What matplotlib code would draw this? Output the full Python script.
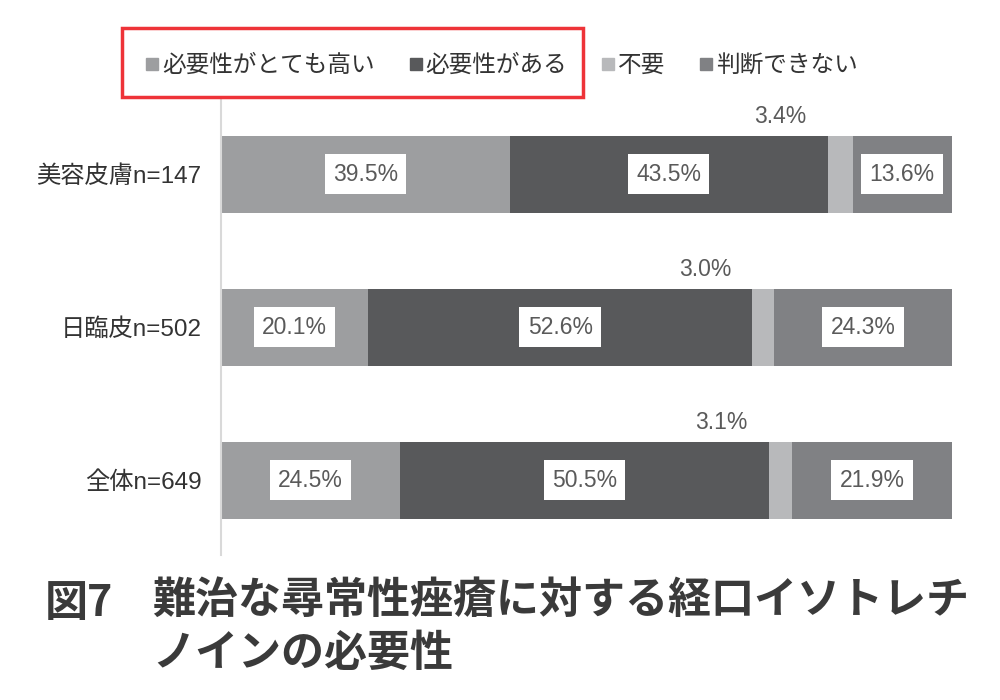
import matplotlib.pyplot as plt
from matplotlib.lines import Line2D
from matplotlib.patches import Rectangle

plt.rcParams["font.family"] = ["Liberation Sans", "Noto Sans CJK JP", "DejaVu Sans"]

# data
groups = ["美容皮膚n=147", "日臨皮n=502", "全体n=649"]
categories = ["必要性がとても高い", "必要性がある", "不要", "判断できない"]
very_high = [39.5, 20.1, 24.5]
needed = [43.5, 52.6, 50.5]
not_needed = [3.4, 3.0, 3.1]
unsure = [13.6, 24.3, 21.9]

colors = ["#9d9ea0", "#58595b", "#b8b9bb", "#808184"]
series = [very_high, needed, not_needed, unsure]
text_col = "#5a5a5a"

fig = plt.figure(figsize=(10, 7), dpi=100)
ax = fig.add_axes([0.221, 0.207, 0.731, 0.65])

ypos = list(range(len(groups)))
lefts = [0.0] * len(groups)
for vals, col, name in zip(series, colors, categories):
    ax.barh(ypos, vals, left=lefts, height=0.503, color=col, label=name)
    for i, v in enumerate(vals):
        if name == "不要":
            # small share: label sits above the bar
            ax.text(lefts[i] - 6.5, i - 0.3, f"{v:.1f}%", ha="center",
                    va="bottom", fontsize=16.5, color=text_col)
        else:
            ax.text(lefts[i] + v / 2, i, f"{v:.1f}%", ha="center",
                    va="center", fontsize=16.5, color=text_col,
                    bbox={"fc": "white", "ec": "none", "pad": 6})
    lefts = [l + v for l, v in zip(lefts, vals)]

ax.set_xlim(0, 100)
ax.set_ylim(2.49, -0.484)
ax.set_yticks(ypos)
ax.set_yticklabels(groups, fontsize=17.5, color="#333333")
ax.tick_params(axis="y", length=0, pad=14)
ax.set_xticks([])
for s in ["top", "right", "bottom"]:
    ax.spines[s].set_visible(False)
ax.spines["left"].set_color("#d9d9d9")
ax.spines["left"].set_linewidth(1.5)

# legend
handles = [Line2D([], [], marker="s", linestyle="none", markersize=8,
                  color=c) for c in colors]
fig.legend(handles, categories, loc="center left",
           bbox_to_anchor=(0.124, 1 - 66 / 700), ncol=4, frameon=False,
           fontsize=17, handlelength=0.6, handletextpad=0.1,
           columnspacing=1.45, labelcolor="#333333")

# red box around first two legend items
fig.patches.append(Rectangle((0.122, 1 - 97 / 700), 0.461, 69 / 700,
                             transform=fig.transFigure, fill=False,
                             ec="#ee3338", lw=2.5))

# caption
fig.text(0.045, 1 - 603 / 700, "図7", fontsize=31, fontweight="bold",
         family="Noto Sans CJK JP", color="#3a3a3a", va="center", ha="left")
fig.text(0.152, 1 - 578 / 700, "難治な尋常性痤瘡に対する経口イソトレチ\nノインの必要性",
         fontsize=31, fontweight="bold", family="Noto Sans CJK JP",
         color="#3a3a3a", va="top", ha="left", linespacing=1.25)

fig.savefig("out.png", dpi=100)
